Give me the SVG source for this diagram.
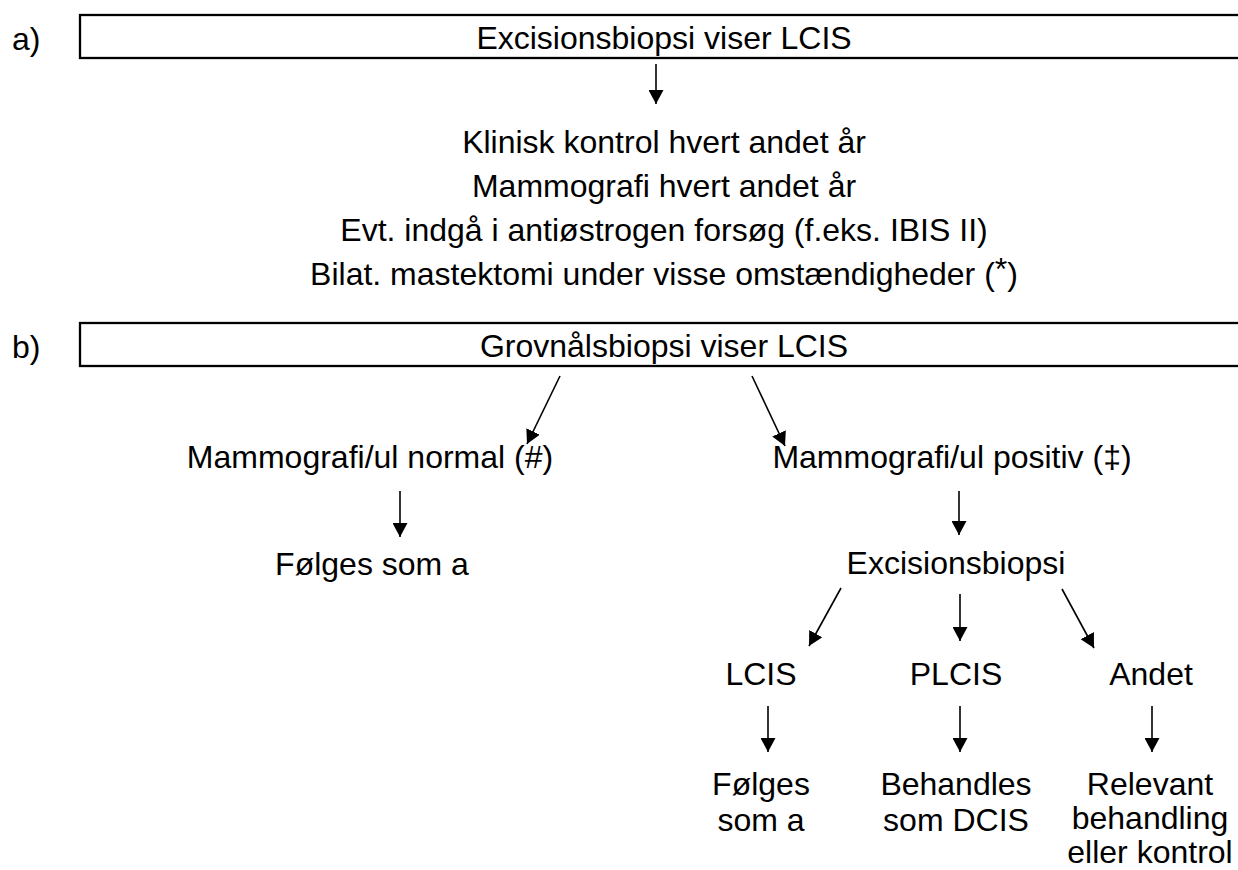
<svg xmlns="http://www.w3.org/2000/svg" width="1238" height="870" viewBox="0 0 1238 870">
<defs>
<marker id="ah" viewBox="0 0 14 15" refX="14" refY="7.5" markerWidth="14" markerHeight="15" markerUnits="userSpaceOnUse" orient="auto">
<path d="M0,0 L14,7.5 L0,15 z" fill="#000"/>
</marker>
<style>
text{font-family:"Liberation Sans",Arial,sans-serif;font-size:32px;fill:#000;text-anchor:middle}
.lbl{text-anchor:start}
.box{fill:#fff;stroke:#000;stroke-width:2.3}
.c line{stroke:#000;stroke-width:1.6;marker-end:url(#ah)}
</style>
</defs>
<rect width="1238" height="870" fill="#fff"/>
<g id="label-a"><text class="lbl" x="12" y="50">a)</text></g>
<g id="box-a"><rect class="box" x="80" y="15" width="1200" height="43"/><text x="664" y="49">Excisionsbiopsi viser LCIS</text></g>
<g id="follow-a">
<text x="664" y="153">Klinisk kontrol hvert andet år</text>
<text x="664" y="197">Mammografi hvert andet år</text>
<text x="664" y="241">Evt. indgå i antiøstrogen forsøg (f.eks. IBIS II)</text>
<text x="664" y="285">Bilat. mastektomi under visse omstændigheder (<tspan dy="-5">*</tspan><tspan dy="5">)</tspan></text>
</g>
<g id="label-b"><text class="lbl" x="12" y="358">b)</text></g>
<g id="box-b"><rect class="box" x="80" y="323" width="1200" height="43"/><text x="664" y="357">Grovnålsbiopsi viser LCIS</text></g>
<g id="normal"><text x="370" y="468">Mammografi/ul normal (#)</text></g>
<g id="positiv"><text x="952" y="468">Mammografi/ul positiv (‡)</text></g>
<g id="follow-normal"><text x="372" y="575">Følges som a</text></g>
<g id="excision"><text x="956" y="574">Excisionsbiopsi</text></g>
<g id="lcis"><text x="761" y="685">LCIS</text></g>
<g id="plcis"><text x="956" y="685">PLCIS</text></g>
<g id="andet"><text x="1151" y="685">Andet</text></g>
<g id="follow-lcis"><text x="761" y="795">Følges</text><text x="761" y="831">som a</text></g>
<g id="dcis"><text x="956" y="795">Behandles</text><text x="956" y="831">som DCIS</text></g>
<g id="relevant"><text x="1150" y="795">Relevant</text><text x="1150" y="829">behandling</text><text x="1150" y="863">eller kontrol</text></g>
<g id="connectors" class="c">
<line x1="656" y1="64" x2="656" y2="104"/>
<line x1="560" y1="376" x2="527" y2="444"/>
<line x1="752" y1="376" x2="785" y2="446"/>
<line x1="400" y1="491" x2="400" y2="537"/>
<line x1="959" y1="491" x2="959" y2="535"/>
<line x1="841" y1="588" x2="809" y2="646"/>
<line x1="960" y1="594" x2="960" y2="641"/>
<line x1="1062" y1="589" x2="1094" y2="648"/>
<line x1="768" y1="706" x2="768" y2="752"/>
<line x1="960" y1="706" x2="960" y2="752"/>
<line x1="1152" y1="706" x2="1152" y2="752"/>
</g>
</svg>
